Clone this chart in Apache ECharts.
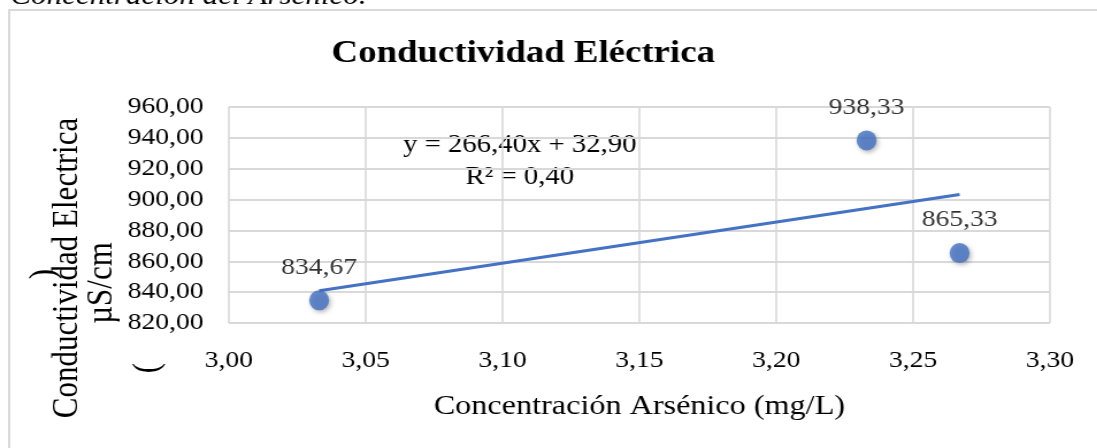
<!DOCTYPE html>
<html>
<head>
<meta charset="utf-8">
<script src="https://cdn.jsdelivr.net/npm/echarts@6/dist/echarts.min.js"></script>
<style>
  html, body { margin: 0; padding: 0; background: #fff; overflow: hidden; }
  #wrap { width: 1097px; height: 448px; overflow: hidden; }
  /* the chart is laid out narrower and widened horizontally */
  #chart { width: 954px; height: 448px; transform: scaleX(1.15); transform-origin: 0 0; }
</style>
</head>
<body>
<div id="wrap"><div id="chart"></div></div>
<script>
// Arsenic concentration (mg/L) and electrical conductivity (µS/cm)
const arsenico = [3.033, 3.233, 3.267];
const conductividad = [834.67, 938.33, 865.33];
// Linear trendline reported on the chart
const pendiente = 266.40;
const intercepto = 32.90;
const r2 = 0.40;
const xTicks = [3.00, 3.30, 0.05];   // min, max, step
const yTicks = [820, 960, 20];       // min, max, step

const fmt = (v) => v.toFixed(2).replace('.', ',');
const SERIF = "'Liberation Serif', 'Times New Roman', serif";
const BLUE = '#4472C4';
const GRID = '#d9d9d9';

const puntos = arsenico.map((x, i) => [x, conductividad[i]]);
const xMin = Math.min(...arsenico), xMax = Math.max(...arsenico);
const tendencia = [xMin, xMax].map(x => [x, pendiente * x + intercepto]);

// vertical (bottom-to-top) text piece of the y-axis title
function vText(txt, x, y) {
  return {
    type: 'group', x: x, y: y, rotation: Math.PI / 2,
    children: [{
      type: 'text', x: 0, y: 0,
      style: { text: txt, fontFamily: SERIF, fontSize: 31, fill: '#000',
               textAlign: 'center', textVerticalAlign: 'middle' }
    }]
  };
}

const chart = echarts.init(document.getElementById('chart'), null, { renderer: 'canvas' });
chart.setOption({
  backgroundColor: '#fff',
  animation: false,
  grid: { left: 199, right: 41, top: 107, bottom: 125, containLabel: false },
  title: {
    text: 'Conductividad Eléctrica',
    left: 450, top: 33, textAlign: 'center',
    textStyle: { fontFamily: SERIF, fontWeight: 'bold', fontSize: 32, color: '#000' }
  },
  xAxis: {
    type: 'value', min: xTicks[0], max: xTicks[1], interval: xTicks[2],
    name: 'Concentración Arsénico (mg/L)', nameLocation: 'middle', nameGap: 70,
    nameTextStyle: { fontFamily: SERIF, fontSize: 28, color: '#000' },
    axisLine: { show: false }, axisTick: { show: false },
    axisLabel: { formatter: fmt, fontFamily: SERIF, fontSize: 24, color: '#000', margin: 26 },
    splitLine: { show: true, lineStyle: { color: GRID, width: 1.6 } }
  },
  yAxis: {
    type: 'value', min: yTicks[0], max: yTicks[1], interval: yTicks[2],
    axisLine: { show: false }, axisTick: { show: false },
    axisLabel: { formatter: fmt, fontFamily: SERIF, fontSize: 24, color: '#000', margin: 22 },
    splitLine: { show: true, lineStyle: { color: GRID, width: 2 } }
  },
  graphic: [
    { type: 'rect', shape: { x: 8, y: 10, width: 1000, height: 500 },
      style: { fill: 'none', stroke: GRID, lineWidth: 2 }, z: -1 },
    { type: 'text', x: 9, y: 10,
      style: { text: 'Concentración del Arsénico.', fontFamily: SERIF, fontStyle: 'italic',
               fontSize: 27, fill: '#000', textVerticalAlign: 'bottom' } },
    vText('Conductividad Electrica', 59, 268),
    vText('µS/cm', 89, 283),
    vText('(', 129, 368),
    vText(')', 39, 274),
    { type: 'text', x: 452, y: 145,
      style: { text: 'y = ' + fmt(pendiente) + 'x + ' + fmt(intercepto), fontFamily: SERIF,
               fontSize: 25, fill: '#000', textAlign: 'center', textVerticalAlign: 'middle' } },
    { type: 'text', x: 452, y: 177,
      style: { text: 'R² = ' + fmt(r2), fontFamily: SERIF,
               fontSize: 25, fill: '#000', textAlign: 'center', textVerticalAlign: 'middle' } }
  ],
  series: [
    {
      type: 'line', data: tendencia, symbol: 'none', z: 2,
      lineStyle: { color: BLUE, width: 3 }, silent: true
    },
    {
      type: 'scatter', data: puntos, z: 3,
      symbol: 'circle', symbolSize: [17.4, 20],
      itemStyle: { color: BLUE, shadowBlur: 4, shadowColor: 'rgba(0,0,0,0.35)',
                   shadowOffsetX: 1.5, shadowOffsetY: 2 },
      label: {
        show: true, position: 'top', distance: 11,
        formatter: (p) => fmt(p.value[1]),
        fontFamily: SERIF, fontSize: 24, color: '#000'
      }
    }
  ]
});
</script>
</body>
</html>
